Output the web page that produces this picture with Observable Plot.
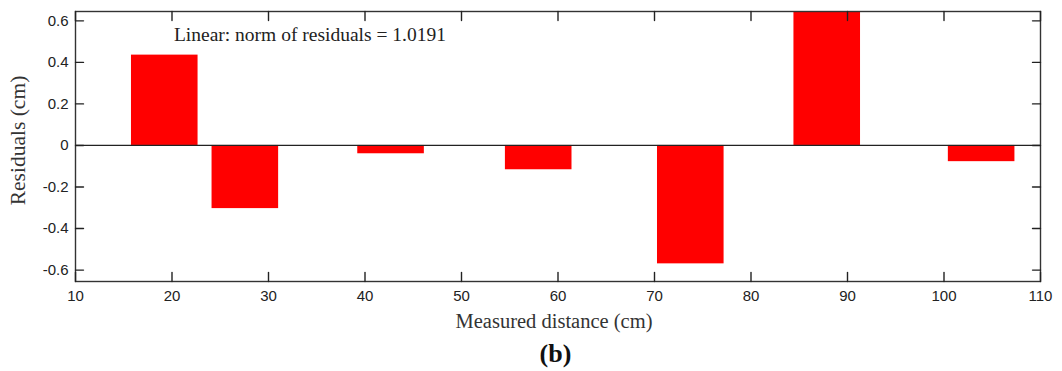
<!DOCTYPE html>
<html>
<head>
<meta charset="utf-8">
<script src="https://cdn.jsdelivr.net/npm/d3@7"></script>
<script src="https://cdn.jsdelivr.net/npm/@observablehq/plot@0.6"></script>
<style>
  html, body { margin: 0; padding: 0; background: #fff; }
  #chart svg { display: block; }
</style>
</head>
<body>
<div id="chart"></div>
<script>
// Data
const distances = [19.25, 27.6, 42.7, 58.0, 73.76, 87.9, 103.9];   // bar centres (cm)
const residuals = [0.435, -0.304, -0.040, -0.117, -0.570, 0.650, -0.078]; // cm
const barWidth = 6.9;
const xTicks = [10, 20, 30, 40, 50, 60, 70, 80, 90, 100, 110];
const yTicks = [-0.6, -0.4, -0.2, 0, 0.2, 0.4, 0.6];
const annotation = ["Linear: norm of residuals = 1.0191"];
const annotationX = [20.2];
const annotationY = [0.535];

const data = distances.map((d, i) => ({x: d, r: residuals[i]}));
const serif = "'Liberation Serif', 'Times New Roman', serif";
const sans = "'Liberation Sans', Arial, sans-serif";
const fmtY = d => d === 0 ? "0" : d.toFixed(1);
const tickShape = {draw(context, l) { context.moveTo(0, 0); context.lineTo(0, -l); }};
const tickStyle = {shape: tickShape, anchor: "start", stroke: "#222", strokeWidth: 1.4};

const chart = Plot.plot({
  width: 1062,
  height: 371,
  marginLeft: 75,
  marginRight: 22,
  marginTop: 11,
  marginBottom: 90,
  style: {background: "#fff", color: "#222"},
  x: {domain: [10, 110]},
  y: {domain: [-0.655, 0.645]},
  marks: [
    Plot.rectY(data, {x1: d => d.x - barWidth / 2, x2: d => d.x + barWidth / 2, y1: 0, y2: "r", fill: "#ff0000", clip: true}),
    Plot.ruleY([0], {stroke: "#222", strokeWidth: 1.2}),
    Plot.frame({stroke: "#333", strokeWidth: 1.4}),
    // tick labels
    Plot.axisX(xTicks, {anchor: "bottom", tickSize: 0, tickPadding: 9, fontSize: 15, fontFamily: sans, fill: "#222", label: null}),
    Plot.axisY(yTicks, {anchor: "left", tickSize: 0, tickPadding: 7, fontSize: 15, fontFamily: sans, fill: "#222", tickFormat: fmtY, label: null}),
    // inward ticks on all four sides
    Plot.vector(xTicks, {x: d => d, frameAnchor: "bottom", length: 9, rotate: 0, ...tickStyle}),
    Plot.vector(xTicks, {x: d => d, frameAnchor: "top", length: 9, rotate: 180, ...tickStyle}),
    Plot.vector(yTicks, {y: d => d, frameAnchor: "left", length: 8, rotate: 90, ...tickStyle}),
    Plot.vector(yTicks, {y: d => d, frameAnchor: "right", length: 8, rotate: -90, ...tickStyle}),
    // annotation
    Plot.text(annotation, {x: annotationX, y: annotationY, text: d => d, textAnchor: "start", fontSize: 19.5, fontFamily: serif, fill: "#222"}),
    // axis titles
    Plot.text(["Residuals (cm)"], {frameAnchor: "left", textAnchor: "middle", lineAnchor: "middle", dx: -57, dy: -6, rotate: -90, text: d => d, fontSize: 21.5, fontFamily: serif, fill: "#333"}),
    Plot.text(["Measured distance (cm)"], {frameAnchor: "bottom", textAnchor: "middle", lineAnchor: "middle", dx: -4, dy: 40, text: d => d, fontSize: 20.5, fontFamily: serif, fill: "#333"}),
    Plot.text(["(b)"], {frameAnchor: "bottom", textAnchor: "middle", lineAnchor: "middle", dx: -2.5, dy: 72, text: d => d, fontSize: 26, fontWeight: "bold", fontFamily: serif, fill: "#111"})
  ]
});
document.getElementById("chart").appendChild(chart);
</script>
</body>
</html>
